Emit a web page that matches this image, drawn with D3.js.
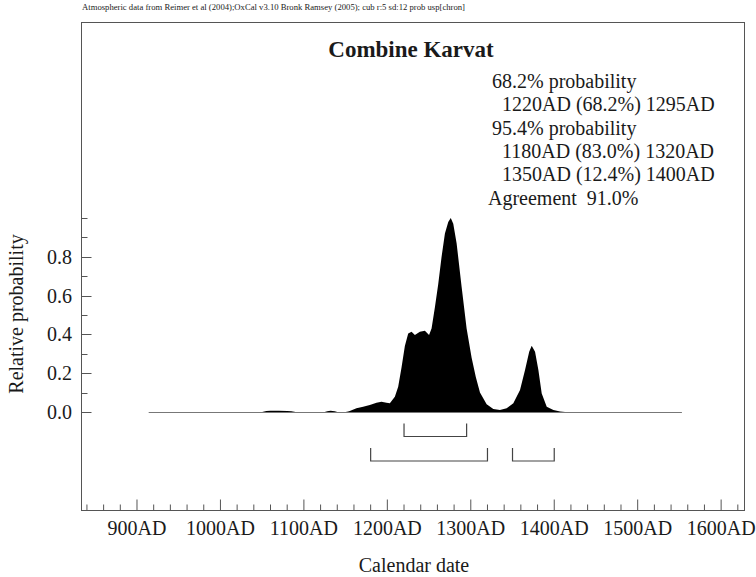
<!DOCTYPE html>
<html>
<head>
    <meta charset="utf-8" />
    <title>Combine Karvat</title>
    <script src="https://d3js.org/d3.v7.min.js"></script>
    <style>
    body { margin: 0; background: white; }
    svg text { font-family: "Liberation Serif", "DejaVu Serif", serif; fill: #1a1a1a; }
    </style>
</head>
<body>
<div id="chart"></div>
<script>
    // calendar years and relative probability
    var calYears = [914, 1050, 1055, 1060, 1070, 1080, 1085, 1090, 1125, 1128, 1132, 1137, 1140,
        1150, 1153, 1155, 1163, 1171, 1179, 1187, 1193, 1199, 1203, 1209, 1213, 1217, 1221, 1225,
        1229, 1233, 1239, 1245, 1250, 1253, 1257, 1261, 1265, 1269, 1273, 1276, 1279, 1283, 1289,
        1295, 1301, 1306, 1311, 1319, 1327, 1335, 1343, 1351, 1359, 1365, 1370, 1373, 1377, 1381,
        1385, 1391, 1399, 1407, 1413, 1553];
    var relProb = [0, 0, 0.005, 0.006, 0.006, 0.005, 0.004, 0, 0, 0.004, 0.006, 0.004, 0,
        0, 0.002, 0.005, 0.019, 0.027, 0.036, 0.048, 0.053, 0.048, 0.045, 0.079, 0.13, 0.23, 0.34, 0.405,
        0.414, 0.397, 0.414, 0.419, 0.397, 0.43, 0.54, 0.66, 0.80, 0.92, 0.98, 1.0, 0.97, 0.87, 0.646,
        0.43, 0.28, 0.18, 0.1, 0.04, 0.015, 0.01, 0.019, 0.045, 0.113, 0.216, 0.31, 0.342, 0.31, 0.216,
        0.096, 0.027, 0.01, 0.002, 0, 0];

    var range68 = [[1220, 1295]];
    var range95 = [[1180, 1320], [1350, 1400]];

    var majorYears = [900, 1000, 1100, 1200, 1300, 1400, 1500, 1600];
    var yMajor = [0, 0.2, 0.4, 0.6, 0.8];
    var yMinor = [0.1, 0.3, 0.5, 0.7, 0.9, 1.0];

    var header = "Atmospheric data from Reimer et al (2004);OxCal v3.10 Bronk Ramsey (2005); cub r:5 sd:12 prob usp[chron]";
    var title = "Combine Karvat";
    var notes = ["68.2% probability", "  1220AD (68.2%) 1295AD", "95.4% probability",
        "  1180AD (83.0%) 1320AD", "  1350AD (12.4%) 1400AD", "Agreement  91.0%"];

    var W = 756, H = 577;
    var frame = {left: 81.5, right: 744.5, top: 22.5, bottom: 510.5};

    var x = d3.scaleLinear().domain([833.5, 1628]).range([frame.left, frame.right]);
    var y = d3.scaleLinear().domain([0, 1]).range([412, 218]);

    var svg = d3.select("#chart").append("svg")
        .attr("width", W)
        .attr("height", H);

    svg.append("text")
        .attr("x", 82)
        .attr("y", 10)
        .style("font-size", "8px")
        .attr("textLength", 383)
        .attr("lengthAdjust", "spacingAndGlyphs")
        .text(header);

    svg.append("rect")
        .attr("x", frame.left)
        .attr("y", frame.top)
        .attr("width", frame.right - frame.left)
        .attr("height", frame.bottom - frame.top)
        .style("fill", "none")
        .style("stroke", "#555")
        .style("stroke-width", 1);

    // x ticks: every 20 years, pointing into the frame
    var minorYears = d3.range(840, 1621, 20);
    svg.append("g")
        .selectAll("line")
        .data(minorYears)
        .enter().append("line")
        .attr("x1", function(d) { return x(d); })
        .attr("x2", function(d) { return x(d); })
        .attr("y1", frame.bottom)
        .attr("y2", function(d) { return frame.bottom - (d % 100 == 0 ? 11 : 6); })
        .style("stroke", "#555");

    svg.append("g")
        .selectAll("text")
        .data(majorYears)
        .enter().append("text")
        .attr("x", function(d) { return x(d); })
        .attr("y", 535)
        .style("font-size", "20px")
        .style("text-anchor", "middle")
        .text(function(d) { return d + "AD"; });

    // y ticks
    svg.append("g")
        .selectAll("line")
        .data(yMajor.concat(yMinor))
        .enter().append("line")
        .attr("x1", frame.left)
        .attr("x2", function(d, i) { return frame.left + (i < yMajor.length ? 10 : 6); })
        .attr("y1", function(d) { return Math.round(y(d)) + 0.5; })
        .attr("y2", function(d) { return Math.round(y(d)) + 0.5; })
        .style("stroke", "#555");

    svg.append("g")
        .selectAll("text")
        .data(yMajor)
        .enter().append("text")
        .attr("x", 72)
        .attr("y", function(d) { return y(d) + 7; })
        .style("font-size", "20px")
        .style("text-anchor", "end")
        .text(d3.format(".1f"));

    svg.append("text")
        .attr("transform", "translate(23,314) rotate(-90)")
        .style("font-size", "20px")
        .style("text-anchor", "middle")
        .text("Relative probability");

    svg.append("text")
        .attr("x", 414)
        .attr("y", 572)
        .style("font-size", "20px")
        .style("text-anchor", "middle")
        .text("Calendar date");

    // distribution
    var pts = calYears.map(function(d, i) { return [d, relProb[i]]; });

    var area = d3.area()
        .x(function(d) { return x(d[0]); })
        .y0(y(0))
        .y1(function(d) { return y(d[1]); });

    svg.append("path")
        .datum(pts)
        .attr("d", area)
        .style("fill", "#000");

    svg.append("line")
        .attr("x1", x(calYears[0]))
        .attr("x2", x(calYears[calYears.length - 1]))
        .attr("y1", y(0) + 0.5)
        .attr("y2", y(0) + 0.5)
        .style("stroke", "#777");

    // probability range brackets
    function bracket(ranges, yLine) {
        svg.append("g")
            .selectAll("path")
            .data(ranges)
            .enter().append("path")
            .attr("d", function(d) {
                return "M" + x(d[0]) + "," + (yLine - 13) + "V" + yLine + "H" + x(d[1]) + "V" + (yLine - 13);
            })
            .style("fill", "none")
            .style("stroke", "#444")
            .style("stroke-width", 1.2);
    }
    bracket(range68, 436.5);
    bracket(range95, 461);

    svg.append("text")
        .attr("x", 411)
        .attr("y", 57)
        .style("font-size", "23px")
        .style("font-weight", "bold")
        .style("text-anchor", "middle")
        .text(title);

    svg.append("g")
        .selectAll("text")
        .data(notes)
        .enter().append("text")
        .attr("x", function(d, i) { return i == 5 ? 488 : 492; })
        .attr("y", function(d, i) { return 88 + i * 23.3; })
        .style("font-size", "20px")
        .attr("xml:space", "preserve")
        .text(function(d) { return d; });
</script>
</body>
</html>
